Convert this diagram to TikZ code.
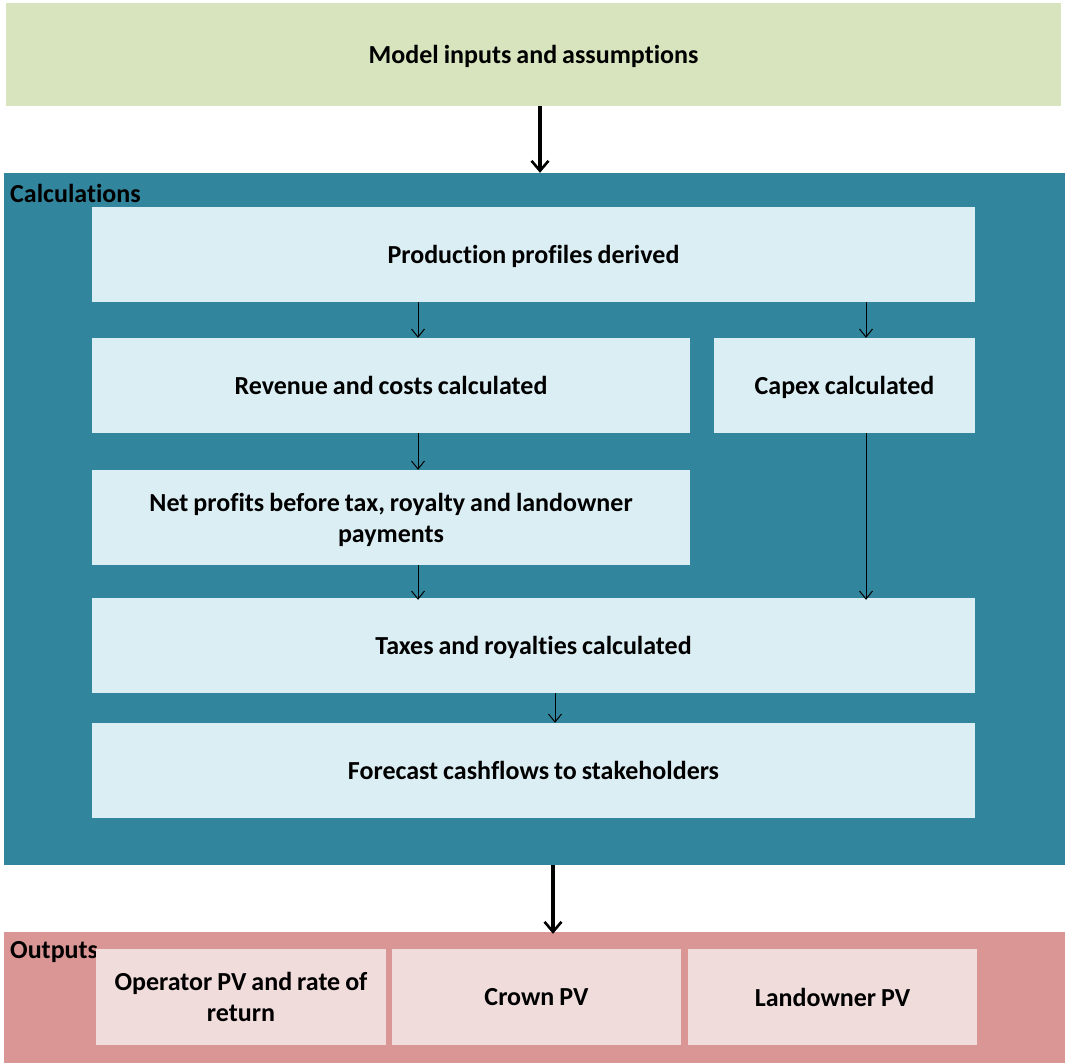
\documentclass[tikz,border=0pt]{standalone}
\usepackage{fontspec}
\setmainfont{Carlito}[Ligatures=NoCommon, WordSpace=0.85]
\usetikzlibrary{arrows.meta}
\definecolor{inpgreen}{HTML}{D7E4BD}
\definecolor{calcteal}{HTML}{31859C}
\definecolor{calclight}{HTML}{DBEEF3}
\definecolor{outpink}{HTML}{D99694}
\definecolor{outlight}{HTML}{F0DCDB}
\tikzset{
  box/.style={draw=none, rectangle, inner sep=0pt, align=center, text depth=0pt,
    font=\fontsize{26}{31}\selectfont\bfseries},
  calcbox/.style={box, fill=calclight, minimum height=95pt},
  outbox/.style={box, fill=outlight, minimum height=96pt, minimum width=289pt},
  bigarrow/.style={draw=black, line width=3.2pt, -{Straight Barb[length=10pt,width=17pt,line width=2.6pt]}},
  smallarrow/.style={draw=black, line width=1pt, -{Straight Barb[length=8pt,width=13pt,line width=1pt]}},
  grouplabel/.style={anchor=west, inner sep=0pt, font=\fontsize{26}{30}\selectfont\bfseries}
}
\begin{document}
\begin{tikzpicture}[x=1pt,y=-1pt]
\useasboundingbox (0,0) rectangle (1065,1063);
\node[box, fill=inpgreen, minimum width=1055pt, minimum height=103pt] (inputs) at (533.5,54.5) {Model inputs and assumptions};
\node[box, fill=calcteal, minimum width=1061pt, minimum height=692pt] (calc) at (534.5,519) {};
\node[grouplabel] (calclbl) at (10,193) {Calculations};
\node[calcbox, minimum width=883pt] (prod) at (533.5,254.5) {Production profiles derived};
\node[calcbox, minimum width=598pt] (rev) at (391,385.5) {Revenue and costs calculated};
\node[calcbox, minimum width=261pt] (capex) at (844.5,385.5) {Capex calculated};
\node[calcbox, minimum width=598pt] (net) at (391,517.5) {Net profits before tax, royalty and landowner\\payments};
\node[calcbox, minimum width=883pt] (tax) at (533.5,645.5) {Taxes and royalties calculated};
\node[calcbox, minimum width=883pt] (fore) at (533.5,770.5) {Forecast cashflows to stakeholders};
\node[box, fill=outpink, minimum width=1061pt, minimum height=131pt] (out) at (534.5,997.5) {};
\node[grouplabel] (outlbl) at (10,952) {Outputs};
\node[outbox, minimum width=290pt] (oper) at (241,997) {Operator PV and rate of\\return};
\node[outbox] (crown) at (536.5,997) {Crown PV};
\node[outbox] (land) at (832.5,997) {Landowner PV};
% connectors
\draw[bigarrow] (inputs.south -| 540,0) -- (calc.north -| 540,0);
\draw[smallarrow] (prod.south -| 418,0) -- (rev.north -| 418,0);
\draw[smallarrow] (prod.south -| 866,0) -- (capex.north -| 866,0);
\draw[smallarrow] (rev.south -| 418,0) -- (net.north -| 418,0);
\draw[smallarrow] (net.south -| 418,0) -- ([yshift=-2pt]tax.north -| 418,0);
\draw[smallarrow] (capex.south -| 866,0) -- ([yshift=-2pt]tax.north -| 866,0);
\draw[smallarrow] (tax.south -| 555,0) -- (fore.north -| 555,0);
\draw[bigarrow] (calc.south -| 553,0) -- ([yshift=-2pt]out.north -| 553,0);
\end{tikzpicture}
\end{document}
